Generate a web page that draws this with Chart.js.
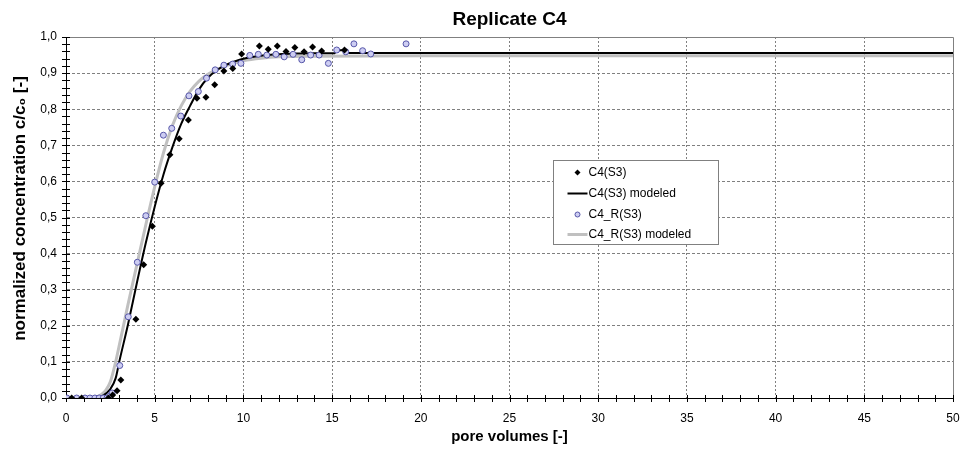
<!DOCTYPE html>
<html>
<head>
<meta charset="utf-8">
<script src="https://cdn.jsdelivr.net/npm/chart.js@4.4.1/dist/chart.umd.min.js"></script>
<style>
  html, body { margin: 0; padding: 0; background: #ffffff; }
  canvas { display: block; }
</style>
</head>
<body>
<canvas id="chart" width="962" height="456"></canvas>
<script>
// Breakthrough curves of column C4 and its replicate (pore volumes vs. c/c0)

// measured, C4(S3)
const c4PoreVolumes = [0.32, 0.88, 2.39, 2.63, 2.88, 3.09, 3.94, 4.38, 4.87, 5.36, 5.86, 6.38, 6.9, 7.38, 7.89, 8.38, 8.9, 9.4, 9.9, 10.9, 11.4, 11.91, 12.4, 12.9, 13.42, 13.9, 14.41, 15.7];
const c4Conc = [0, 0, 0, 0.008, 0.02, 0.05, 0.218, 0.369, 0.476, 0.595, 0.674, 0.718, 0.77, 0.83, 0.833, 0.868, 0.906, 0.913, 0.953, 0.975, 0.966, 0.975, 0.96, 0.971, 0.959, 0.972, 0.961, 0.964];

// measured, C4_R(S3)
const c4rPoreVolumes = [0.05, 0.6, 1.07, 1.35, 1.63, 1.87, 2.1, 2.31, 2.47, 2.6, 3.03, 3.51, 4.02, 4.5, 5.0, 5.49, 5.96, 6.47, 6.93, 7.46, 7.92, 8.41, 8.9, 9.39, 9.86, 10.36, 10.84, 11.32, 11.83, 12.3, 12.8, 13.29, 13.79, 14.27, 14.79, 15.26, 15.77, 16.23, 16.72, 17.18, 19.17];
const c4rConc = [0, 0, 0, 0, 0, 0, 0, 0, 0.006, 0.014, 0.09, 0.225, 0.376, 0.505, 0.598, 0.728, 0.747, 0.781, 0.837, 0.849, 0.886, 0.909, 0.922, 0.925, 0.927, 0.949, 0.952, 0.95, 0.952, 0.945, 0.952, 0.937, 0.95, 0.95, 0.927, 0.964, 0.959, 0.981, 0.962, 0.953, 0.981];

// fitted model, C4(S3)
const c4ModelPV = [0, 1.6, 2.0, 2.5, 2.8, 3.0, 3.5, 4.0, 4.5, 5.0, 5.5, 6.0, 6.5, 7.0, 7.5, 8.0, 8.5, 9.0, 9.5, 10, 11, 12, 13, 14, 15.15, 15.2, 15.7, 15.75, 17, 20, 30, 40, 50];
const c4ModelConc = [0, 0, 0.004, 0.025, 0.055, 0.1, 0.205, 0.32, 0.43, 0.53, 0.62, 0.695, 0.76, 0.81, 0.855, 0.887, 0.908, 0.922, 0.932, 0.94, 0.948, 0.952, 0.954, 0.955, 0.955, 0.963, 0.963, 0.956, 0.956, 0.956, 0.956, 0.956, 0.956];

// fitted model, C4_R(S3)
const c4rModelPV = [0, 1.3, 1.7, 2.0, 2.25, 2.5, 2.75, 3.0, 3.5, 4.0, 4.5, 5.0, 5.5, 6.0, 6.5, 7.0, 7.5, 8.0, 8.5, 9.0, 9.5, 10, 11, 12, 14, 20, 30, 40, 50];
const c4rModelConc = [0, 0, 0.003, 0.01, 0.022, 0.045, 0.09, 0.145, 0.26, 0.37, 0.48, 0.585, 0.68, 0.755, 0.81, 0.85, 0.878, 0.897, 0.91, 0.92, 0.928, 0.934, 0.941, 0.945, 0.947, 0.948, 0.948, 0.948, 0.948];

const chartTitle = 'Replicate C4';
const yAxisTitle = 'normalized concentration c/c\u2080 [-]';
const xAxisTitle = 'pore volumes [-]';
const seriesNames = ['C4(S3)', 'C4(S3) modeled', 'C4_R(S3)', 'C4_R(S3) modeled'];
const xTickValues = [0, 5, 10, 15, 20, 25, 30, 35, 40, 45, 50];
const yTickValues = [0, 0.1, 0.2, 0.3, 0.4, 0.5, 0.6, 0.7, 0.8, 0.9, 1.0];
const yTickLabels = ['0,0', '0,1', '0,2', '0,3', '0,4', '0,5', '0,6', '0,7', '0,8', '0,9', '1,0'];

const FONT = 'Arial, "Liberation Sans", Helvetica, sans-serif';
const pairs = (xs, ys) => xs.map((x, i) => ({ x: x, y: ys[i] }));

// chart title centred over the plot area, and the rotated y-axis title
const plotTitles = {
  id: 'plotTitles',
  afterDraw(chart) {
    const { ctx, chartArea: a } = chart;
    ctx.save();
    ctx.fillStyle = '#000000';
    ctx.textAlign = 'center';
    ctx.textBaseline = 'middle';
    ctx.font = 'bold 19px ' + FONT;
    ctx.fillText(chartTitle, (a.left + a.right) / 2, 20);
    ctx.translate(20, (a.top + a.bottom) / 2 - 9);
    ctx.rotate(-Math.PI / 2);
    ctx.font = 'bold 17px ' + FONT;
    ctx.fillText(yAxisTitle, 0, 0);
    ctx.restore();
  }
};

// small tick marks crossing both axes, plus the grey top/right frame
const axisDecor = {
  id: 'axisDecor',
  beforeDatasetsDraw(chart) {
    const { ctx, chartArea: a, scales: { x, y } } = chart;
    ctx.save();
    ctx.strokeStyle = '#808080';
    ctx.lineWidth = 1;
    ctx.beginPath();
    ctx.moveTo(a.left, Math.round(a.top) + 0.5);
    ctx.lineTo(Math.round(a.right) + 0.5, Math.round(a.top) + 0.5);
    ctx.lineTo(Math.round(a.right) + 0.5, Math.round(a.bottom));
    ctx.stroke();

    ctx.strokeStyle = '#000000';
    ctx.beginPath();
    const yb = Math.round(y.getPixelForValue(0));
    for (let v = 0; v <= 50; v += 1) {
      const px = Math.round(x.getPixelForValue(v)) + 0.5;
      ctx.moveTo(px, yb - 3);
      ctx.lineTo(px, yb + 4);
    }
    const xl = Math.round(x.getPixelForValue(0));
    for (let k = 0; k <= 50; k += 1) {
      const py = Math.round(y.getPixelForValue(k * 0.02)) + 0.5;
      ctx.moveTo(xl - 4, py);
      ctx.lineTo(xl + 4, py);
    }
    ctx.stroke();
    ctx.restore();
  }
};

// legend box drawn inside the plot area
const boxLegend = {
  id: 'boxLegend',
  afterDatasetsDraw(chart) {
    const { ctx, chartArea: a } = chart;
    const bx = Math.round(a.left + 487) + 0.5;
    const by = Math.round(a.top + 123) + 0.5;
    const bw = 165, bh = 84;
    ctx.save();
    ctx.fillStyle = '#ffffff';
    ctx.fillRect(bx, by, bw, bh);
    ctx.strokeStyle = '#808080';
    ctx.lineWidth = 1;
    ctx.strokeRect(bx, by, bw, bh);

    const rowY = [12, 33, 54, 74];
    const mx = bx + 24;
    chart.data.datasets.forEach((ds, r) => {
      const cy = by + rowY[r];
      if (ds.showLine) {
        ctx.strokeStyle = ds.borderColor;
        ctx.lineWidth = ds.borderWidth;
        ctx.beginPath();
        ctx.moveTo(mx - 10, cy);
        ctx.lineTo(mx + 10, cy);
        ctx.stroke();
      } else {
        ctx.fillStyle = ds.pointBackgroundColor;
        ctx.strokeStyle = ds.pointBorderColor;
        ctx.lineWidth = ds.pointBorderWidth;
        ctx.beginPath();
        if (ds.pointStyle === 'circle') {
          ctx.arc(mx, cy, 2.5, 0, Math.PI * 2);
        } else {
          ctx.moveTo(mx - 3, cy); ctx.lineTo(mx, cy - 3); ctx.lineTo(mx + 3, cy); ctx.lineTo(mx, cy + 3); ctx.closePath();
        }
        ctx.fill();
        if (ds.pointBorderWidth) ctx.stroke();
      }
      ctx.fillStyle = '#000000';
      ctx.font = '12px ' + FONT;
      ctx.textBaseline = 'middle';
      ctx.textAlign = 'left';
      ctx.fillText(ds.label, mx + 11, cy);
    });
    ctx.restore();
  }
};

const hideEdges = (lo, hi) => (c) => {
  if (!c.tick) return '#808080';
  return (Math.abs(c.tick.value - lo) < 1e-9 || Math.abs(c.tick.value - hi) < 1e-9) ? 'rgba(0,0,0,0)' : '#808080';
};

new Chart(document.getElementById('chart'), {
  type: 'scatter',
  data: {
    datasets: [
      {
        label: seriesNames[0],
        data: pairs(c4PoreVolumes, c4Conc),
        showLine: false,
        pointStyle: 'rectRot',
        pointRadius: 3.5,
        pointBackgroundColor: '#000000',
        pointBorderColor: '#000000',
        pointBorderWidth: 0,
        order: 0
      },
      {
        label: seriesNames[1],
        data: pairs(c4ModelPV, c4ModelConc),
        showLine: true,
        borderColor: '#000000',
        borderWidth: 2,
        pointRadius: 0,
        cubicInterpolationMode: 'monotone',
        order: 2
      },
      {
        label: seriesNames[2],
        data: pairs(c4rPoreVolumes, c4rConc),
        showLine: false,
        pointStyle: 'circle',
        pointRadius: 3,
        pointBackgroundColor: '#cdcdf2',
        pointBorderColor: '#5656a8',
        pointBorderWidth: 1,
        order: 1
      },
      {
        label: seriesNames[3],
        data: pairs(c4rModelPV, c4rModelConc),
        showLine: true,
        borderColor: '#c0c0c0',
        borderWidth: 3,
        pointRadius: 0,
        cubicInterpolationMode: 'monotone',
        order: 3
      }
    ]
  },
  options: {
    responsive: false,
    animation: false,
    events: [],
    layout: { padding: { left: 0, right: 9, top: 37, bottom: 0 } },
    plugins: {
      legend: { display: false },
      tooltip: { enabled: false },
      title: { display: false }
    },
    scales: {
      x: {
        type: 'linear',
        min: 0,
        max: 50,
        afterBuildTicks: (s) => { s.ticks = xTickValues.map(v => ({ value: v })); },
        afterFit: (s) => { s.height = 58; },
        ticks: {
          color: '#000000',
          font: { family: FONT, size: 12 },
          padding: 2,
          maxRotation: 0,
          callback: (v) => String(v)
        },
        grid: { color: hideEdges(0, 50), lineWidth: 1, drawTicks: true, tickLength: 11, tickColor: 'rgba(0,0,0,0)' },
        border: { display: true, color: '#000000', width: 1, dash: [2, 2] },
        title: {
          display: true,
          text: xAxisTitle,
          color: '#000000',
          font: { family: FONT, size: 15, weight: 'bold' },
          padding: { top: 0, bottom: 10 }
        }
      },
      y: {
        type: 'linear',
        min: 0,
        max: 1,
        afterBuildTicks: (s) => { s.ticks = yTickValues.map(v => ({ value: v })); },
        afterFit: (s) => { s.width = 66; },
        ticks: {
          color: '#000000',
          font: { family: FONT, size: 12 },
          padding: 2,
          callback: (v, i) => yTickLabels[i]
        },
        grid: { color: hideEdges(0, 1), lineWidth: 1, drawTicks: true, tickLength: 7, tickColor: 'rgba(0,0,0,0)' },
        border: { display: true, color: '#000000', width: 1, dash: [3, 2] },
        title: { display: false }
      }
    }
  },
  plugins: [axisDecor, boxLegend, plotTitles]
});
</script>
</body>
</html>
